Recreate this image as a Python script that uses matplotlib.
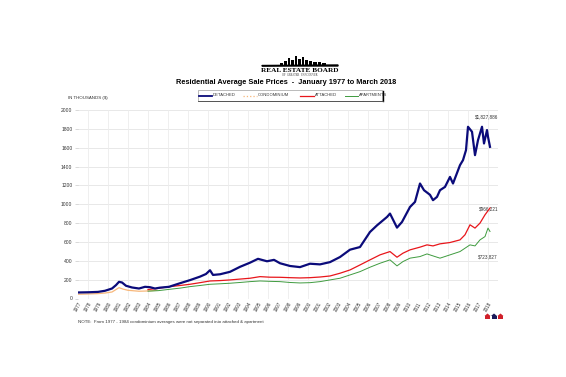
import matplotlib
matplotlib.use("Agg")
import matplotlib.pyplot as plt
from matplotlib.lines import Line2D
from matplotlib.patches import Rectangle, Polygon

plt.rcParams['font.family'] = ['Liberation Sans', 'DejaVu Sans']

# ---------------- data (thousands of $) ----------------
det_x = [1977.0, 1978.0, 1979.0, 1979.7, 1980.4, 1980.8, 1981.1, 1981.4, 1981.8, 1982.4,
         1983.1, 1983.7, 1984.2, 1984.7, 1985.2, 1986.1, 1987.2, 1988.2, 1989.2, 1989.8,
         1990.2, 1990.5, 1991.2, 1992.2, 1993.2, 1994.2, 1995.0, 1995.9, 1996.6, 1997.2,
         1998.2, 1999.2, 2000.2, 2001.2, 2002.2, 2003.2, 2004.2, 2005.2, 2006.2, 2006.9,
         2007.9, 2008.2, 2008.9, 2009.4, 2010.2, 2010.7, 2011.2, 2011.6, 2012.2, 2012.5,
         2012.9, 2013.2, 2013.7, 2014.2, 2014.5, 2015.2, 2015.5, 2015.8, 2016.0, 2016.4,
         2016.7, 2017.0, 2017.4, 2017.6, 2017.9, 2018.0, 2018.2]
det_y = [64, 66, 70, 82, 106, 142, 177, 170, 135, 117,
         106, 124, 120, 106, 115, 124, 162, 195, 232, 260,
         300, 250, 257, 283, 336, 380, 421, 395, 410, 374,
         345, 333, 369, 362, 386, 440, 518, 546, 706, 776,
         865, 901, 752, 812, 971, 1025, 1220, 1149, 1100, 1043,
         1078, 1149, 1184, 1290, 1220, 1415, 1468, 1574, 1822, 1769,
         1521, 1680, 1822, 1645, 1787, 1716, 1609]

condo_x = [1977.0, 1978.0, 1979.0, 1979.7, 1980.4, 1980.8, 1981.1, 1981.5, 1982.0, 1983.1,
           1984.0, 1984.9]
condo_y = [45, 48, 52, 58, 69, 95, 115, 100, 87, 77, 80, 87]

att_x = [1984.0, 1985.0, 1986.2, 1987.2, 1988.2, 1989.2, 1990.2, 1991.2, 1992.2, 1993.2,
         1994.2, 1995.2, 1996.2, 1997.2, 1998.2, 1999.2, 2000.2, 2001.2, 2002.2, 2003.2,
         2004.2, 2005.2, 2006.2, 2007.2, 2008.2, 2008.9, 2009.5, 2010.2, 2011.2, 2011.9,
         2012.5, 2013.2, 2014.2, 2015.2, 2015.7, 2016.2, 2016.7, 2017.2, 2017.7, 2018.2]
att_y = [95, 108, 126, 138, 151, 168, 186, 190, 197, 206,
         215, 232, 226, 225, 221, 218, 221, 228, 239, 268,
         303, 356, 410, 463, 498, 438, 481, 516, 545, 569,
         558, 580, 594, 622, 676, 782, 747, 800, 888, 960]

apt_x = [1984.0, 1985.0, 1986.2, 1987.2, 1988.2, 1989.2, 1990.2, 1991.2, 1992.2, 1993.2,
         1994.2, 1995.2, 1996.2, 1997.2, 1998.2, 1999.2, 2000.2, 2001.2, 2002.2, 2003.2,
         2004.2, 2005.2, 2006.2, 2007.2, 2008.2, 2008.9, 2009.5, 2010.2, 2011.2, 2011.9,
         2012.5, 2013.2, 2014.2, 2015.2, 2016.2, 2016.7, 2017.2, 2017.7, 2018.0, 2018.2]
apt_y = [78, 83, 98, 110, 126, 138, 151, 156, 162, 170,
         179, 186, 182, 179, 170, 165, 168, 179, 197, 215,
         250, 285, 332, 374, 410, 346, 392, 428, 445, 473,
         452, 428, 463, 498, 569, 558, 622, 657, 747, 711]

year_labels = [str(y) for y in range(1977, 2019)]
y_ticks = list(range(0, 2001, 200))
annotations = ["$1,827,886", "$966,221", "$723,827"]

# ---------------- figure ----------------
W, H = 566, 377
fig = plt.figure(figsize=(W / 100, H / 100), dpi=100)

def fx(x):
    return x / W

def fy(y):
    return 1 - y / H

ax = fig.add_axes([fx(78), fy(298.5), fx(498) - fx(78), fy(110) - fy(298.5)])
ax.set_xlim(1977, 2019)
ax.set_ylim(0, 2000)

for v in y_ticks:
    ax.axhline(v, color='#e4e4e4', lw=0.6, zorder=0)
for yr in range(1978, 2019, 2):
    ax.axvline(yr, color='#ececec', lw=0.6, zorder=0)
ax.axhline(0, color='#cfcfcf', lw=0.7, zorder=0)

ax.plot(condo_x, condo_y, color='#f7b77a', lw=0.9, zorder=2)
ax.plot(apt_x, apt_y, color='#3f9b3f', lw=0.7, zorder=3)
ax.plot(att_x, att_y, color='#e8161b', lw=0.9, zorder=4)
ax.plot(det_x, det_y, color='#0b0b7a', lw=1.6, zorder=5)

for s in ax.spines.values():
    s.set_visible(False)

ax.set_yticks(y_ticks)
ax.set_yticklabels([str(v) for v in y_ticks], fontsize=3.6, color='#333333')
ax.tick_params(axis='y', length=2, width=0.4, color='#bbbbbb', pad=2)
ax.set_xticks(list(range(1977, 2019)))
ax.set_xticklabels(year_labels, fontsize=3.3, color='#333333', rotation=60,
                   ha='center', va='top')
ax.tick_params(axis='x', length=0, pad=2)

# end-value annotations
ax.text(2019.0, 1930, annotations[0], fontsize=3.3, color='#333333', ha='right', va='center')
ax.text(2019.0, 955, annotations[1], fontsize=3.3, color='#333333', ha='right', va='center')
ax.text(2019.0, 445, annotations[2], fontsize=3.3, color='#333333', ha='right', va='center')

# ---------------- header ----------------
fig.text(fx(68), fy(98), "IN THOUSANDS ($)", fontsize=3.2, color='#333333', va='center')
fig.text(fx(286), fy(82.5), "Residential Average Sale Prices  -  January 1977 to March 2018",
         fontsize=5.3, fontweight='bold', ha='center', va='center')

# logo
fig.text(fx(300), fy(70.5), "REAL ESTATE BOARD", fontsize=5.2, fontweight='bold',
         family='Liberation Serif', ha='center', va='center')
fig.text(fx(300), fy(75.5), "OF  GREATER  VANCOUVER", fontsize=2.0,
         family='Liberation Serif', ha='center', va='center', color='#333333')
fig.add_artist(Polygon([[fx(262), fy(66)], [fx(338), fy(66)], [fx(338), fy(65)],
                        [fx(262), fy(65.5)]], closed=True, color='black',
                       transform=fig.transFigure))
bldg = [(280, 63, 3, 3), (284, 61, 3, 5), (288, 58, 2, 8), (291, 60, 3, 6), (295, 56, 2, 10),
        (298, 59, 3, 7), (302, 57, 2, 9), (305, 60, 3, 6), (309, 61, 3, 5), (313, 62, 4, 4),
        (318, 62, 3, 4), (322, 63, 4, 3)]
for bx, by, bw, bh in bldg:
    fig.add_artist(Rectangle((fx(bx), fy(by + bh)), bw / W, bh / H, color='black',
                             transform=fig.transFigure, lw=0))

# legend box
fig.add_artist(Rectangle((fx(198), fy(100.5)), (382 - 198) / W, 10 / H, facecolor='white',
                         edgecolor='#888888', lw=0.4, transform=fig.transFigure))
fig.add_artist(Line2D([fx(382.5), fx(382.5)], [fy(100.5), fy(90.5)], color='black', lw=1.0,
                      transform=fig.transFigure))
fig.add_artist(Line2D([fx(198), fx(383)], [fy(100.8), fy(100.8)], color='#444444', lw=0.6,
                      transform=fig.transFigure))
leg = [(199, 212, '#0b0b7a', 1.3, '-', "DETACHED"),
       (243, 257, '#f7b77a', 0.9, ':', "CONDOMINIUM"),
       (300, 314, '#e8161b', 0.9, '-', "ATTACHED"),
       (345, 358, '#3f9b3f', 0.7, '-', "APARTMENTS")]
for x0, x1, c, lw, ls, lab in leg:
    fig.add_artist(Line2D([fx(x0), fx(x1)], [fy(95.5), fy(95.5)], color=c, lw=lw, ls=ls,
                          transform=fig.transFigure))
    fig.text(fx(x1 + 0.5), fy(95.5), lab, fontsize=3.0, color='#333333', va='center')

# note
fig.text(fx(78), fy(322), "NOTE:  From 1977 - 1984 condominium averages were not separated into attached & apartment",
         fontsize=3.2, color='#333333', va='center')

# small house icons bottom right
for i, c in enumerate(['#d0202a', '#1a1a5a', '#d0202a']):
    x0 = 485 + i * 6.5
    fig.add_artist(Rectangle((fx(x0), fy(319)), 5 / W, 3 / H, color=c, lw=0,
                             transform=fig.transFigure))
    fig.add_artist(Polygon([[fx(x0 - 0.5), fy(316)], [fx(x0 + 2.5), fy(313.5)],
                            [fx(x0 + 5.5), fy(316)]], closed=True, color=c, lw=0,
                           transform=fig.transFigure))

fig.savefig("out.png", dpi=100, facecolor='white')
